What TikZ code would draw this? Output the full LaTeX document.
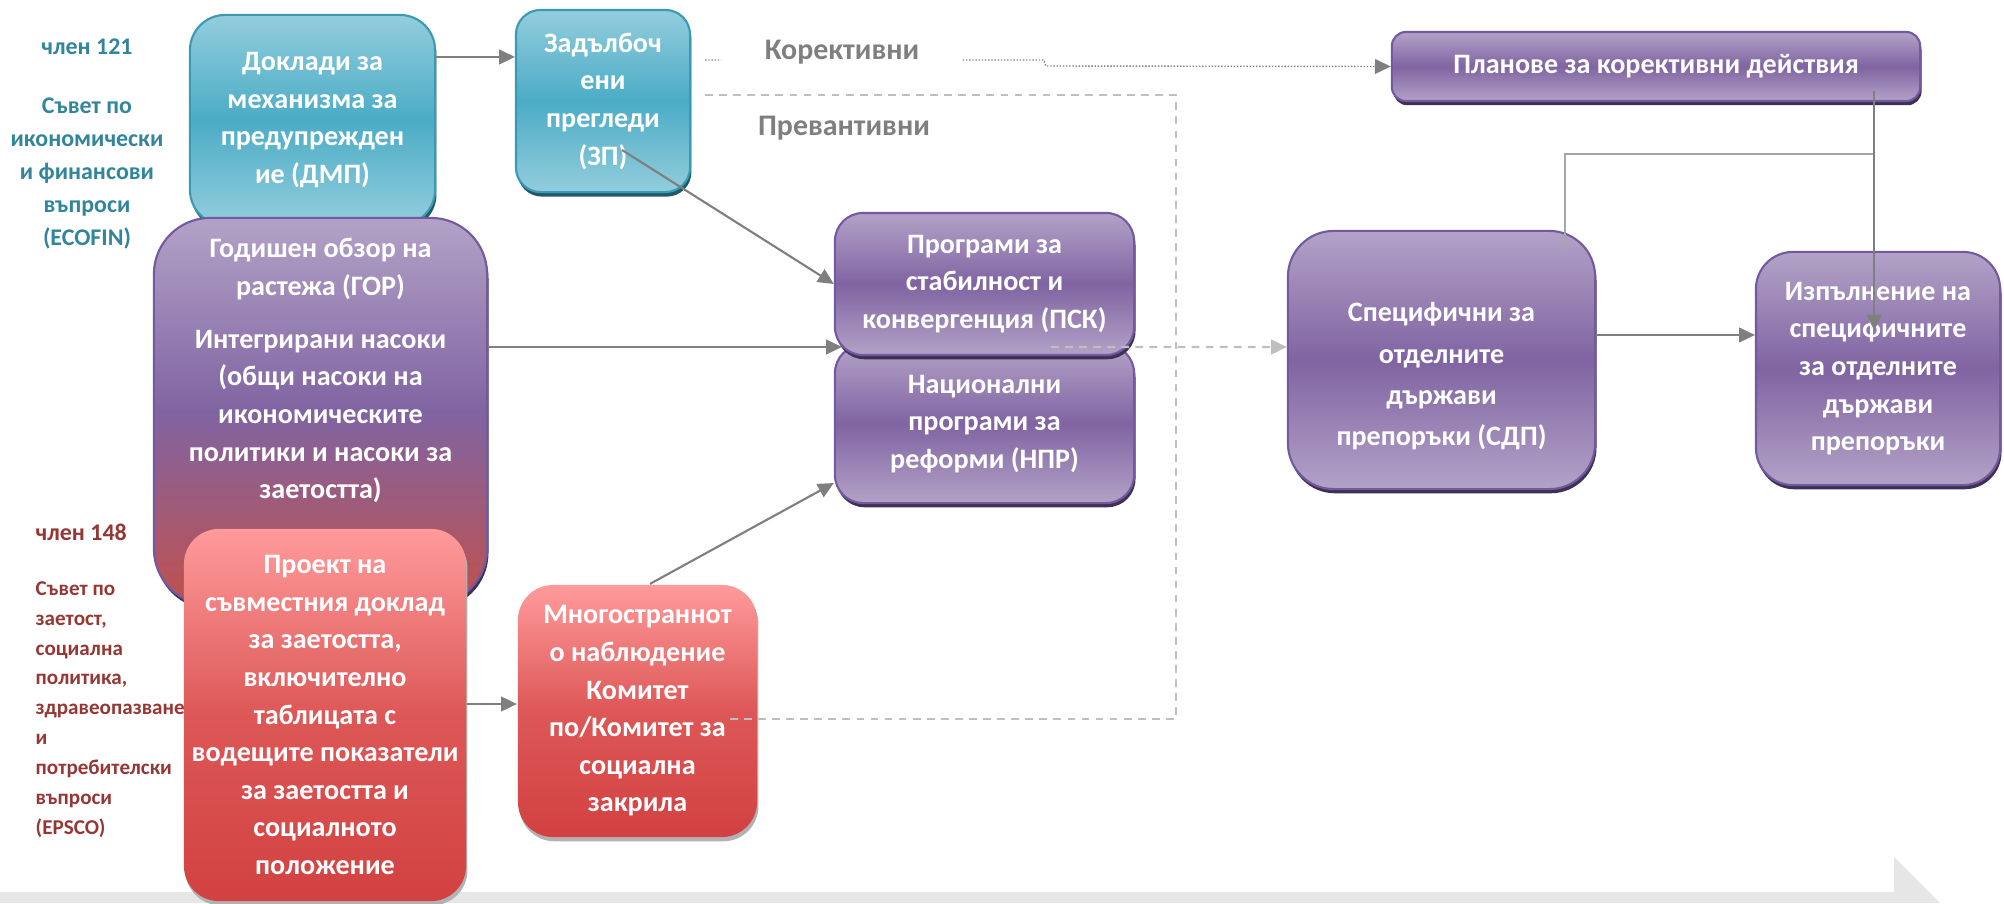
\documentclass[tikz,border=0pt]{standalone}
\usepackage{fontspec}
\setmainfont{Carlito}
\usetikzlibrary{arrows.meta, shadows, calc, positioning}
\definecolor{teallight}{HTML}{93CDDD}
\definecolor{tealmid}{HTML}{4BACC6}
\definecolor{tealedge}{HTML}{3A9AB4}
\definecolor{tealdark}{HTML}{215968}
\definecolor{tealtext}{HTML}{31859C}
\definecolor{plumlight}{HTML}{B3A2C7}
\definecolor{plummid}{HTML}{8064A2}
\definecolor{plumedge}{HTML}{7359A0}
\definecolor{plumdark}{HTML}{3F3151}
\definecolor{redlight}{HTML}{FF9B9B}
\definecolor{redmid}{HTML}{D24141}
\definecolor{brick}{HTML}{C0504D}
\definecolor{eptext}{HTML}{953735}
\definecolor{linegray}{HTML}{7F7F7F}
\definecolor{thingray}{HTML}{A6A6A6}
\definecolor{dashgray}{HTML}{BFBFBF}
\definecolor{bandgray}{HTML}{E6E6E6}
\newcommand{\boxfont}{\fontsize{8}{10.7}\selectfont\bfseries}
\newcommand{\sidefont}{\fontsize{6.8}{9.4}\selectfont\bfseries}
\newcommand{\epfont}{\fontsize{6}{8.5}\selectfont\bfseries}
\newcommand{\tagfont}{\fontsize{8.5}{10}\selectfont\bfseries}

\begin{document}
\begin{tikzpicture}[x=0.01cm, y=-0.01cm,
    box/.style={align=center, text=white, font=\boxfont, inner sep=0pt, line width=0.6pt},
    tealbox/.style={box, draw=tealedge, top color=teallight, bottom color=teallight, middle color=tealmid,
      drop shadow={shadow xshift=0.4pt, shadow yshift=-1.3pt, fill=tealdark, opacity=1}},
    plumbox/.style={box, draw=plumedge, top color=plumlight, bottom color=plumlight, middle color=plummid,
      drop shadow={shadow xshift=0.4pt, shadow yshift=-1.2pt, fill=plumdark, opacity=1}},
    mixbox/.style={box, draw=plumedge, top color=plumlight, bottom color=brick, middle color=plummid,
      drop shadow={shadow xshift=0.4pt, shadow yshift=-1.2pt, fill=plumdark, opacity=1}},
    redbox/.style={box, top color=redlight, bottom color=redmid, middle color=redmid!75!redlight,
      drop shadow={shadow xshift=0.4pt, shadow yshift=-1.2pt, fill=black!30, opacity=1}},
    conn/.style={draw=linegray, line width=0.6pt, -{Triangle[length=4.5pt, width=4.2pt]}},
    dashconn/.style={draw=dashgray, line width=0.6pt, dash pattern=on 2.2pt off 1.8pt,
      -{Triangle[length=4.5pt, width=4.2pt]}},
    dashline/.style={draw=dashgray, line width=0.6pt, dash pattern=on 2.2pt off 1.8pt},
    dotline/.style={draw=linegray, line width=0.4pt, dash pattern=on 0.4pt off 0.5pt},
    thinline/.style={draw=thingray, line width=0.5pt},
    tag/.style={font=\tagfont, text=linegray}]
  \useasboundingbox (0,0) rectangle (2004,903);
  % Timeline band
  \fill[bandgray] (0,892) -- (1894,892) -- (1894,857) -- (1940,903) -- (0,903) -- cycle;
  % Council labels
  \node[font=\sidefont, text=tealtext] (art121) at (87,47) {член 121};
  \node[font=\sidefont, text=tealtext, align=center] (ecofin) at (87,173.5)
    {Съвет по\\икономически\\и финансови\\въпроси\\(ECOFIN)};
  \node[font=\sidefont, text=eptext, anchor=west, inner xsep=0pt] (art148) at (35,532) {член 148};
  \node[font=\epfont, text=eptext, anchor=west, align=left, inner xsep=0pt] (epsco) at (35,709.5)
    {Съвет по\\заетост,\\социална\\политика,\\здравеопазване\\и\\потребителски\\въпроси\\(EPSCO)};
  % Boxes
  \node[tealbox, rounded corners=10pt, minimum width=2.45cm, minimum height=2.1cm] (dmp) at (312.5,120)
    {Доклади за\\механизма за\\предупрежден\\ие (ДМП)};
  \node[tealbox, rounded corners=7pt, minimum width=1.74cm, minimum height=1.82cm] (zp) at (603,101)
    {Задълбоч\\ени\\прегледи\\(ЗП)};
  \node[mixbox, rounded corners=16pt, minimum width=3.33cm, minimum height=3.87cm] (gor) at (320.5,411.5)
    {Годишен обзор на\\растежа (ГОР)\\[4.4pt]Интегрирани насоки\\(общи насоки на\\икономическите\\политики и насоки за\\заетостта)\\[13.8pt]\mbox{}};
  \node[plumbox, rounded corners=8pt, minimum width=2.99cm, minimum height=1.58cm] (npr) at (984.5,424)
    {Национални\\програми за\\реформи (НПР)};
  \node[plumbox, rounded corners=8pt, minimum width=2.99cm, minimum height=1.42cm] (psk) at (984.5,284)
    {Програми за\\стабилност и\\конвергенция (ПСК)};
  \node[redbox, rounded corners=10pt, minimum width=2.82cm, minimum height=3.72cm] (proekt) at (325,715)
    {Проект на\\съвместния доклад\\за заетостта,\\включително\\таблицата с\\водещите показатели\\за заетостта и\\социалното\\положение};
  \node[redbox, rounded corners=10pt, minimum width=2.39cm, minimum height=2.52cm] (mnogo) at (637.5,711)
    {Многостраннот\\о наблюдение\\Комитет\\по/Комитет за\\социална\\закрила};
  \node[plumbox, rounded corners=13pt, minimum width=3.07cm, minimum height=2.58cm,
    font=\fontsize{8}{11.7}\selectfont\bfseries] (sdp) at (1441.5,360)
    {\mbox{}\\[3pt]Специфични за\\отделните\\държави\\препоръки (СДП)};
  \node[plumbox, rounded corners=10.5pt, minimum width=2.44cm, minimum height=2.33cm] (izp) at (1878,368.5)
    {Изпълнение на\\специфичните\\за отделните\\държави\\препоръки};
  \node[plumbox, rounded corners=4pt, minimum width=5.28cm, minimum height=0.69cm] (plan) at (1656,66.5)
    {Планове за корективни действия};
  % Track labels
  \node[tag, minimum width=2.4cm] (korekt) at (842,52) {Корективни};
  \node[tag] (prev) at (844,128) {Превантивни};
  % Connectors
  \draw[conn] ([yshift=.63cm]dmp.east) -- ([yshift=.63cm]dmp.east -| zp.west);
  \draw[conn] ($(zp.center)+(19,49)$) -- (psk.west);
  \draw[conn] ([yshift=.645cm]gor.east) -- ([xshift=.08cm, yshift=.645cm]gor.east -| psk.west);
  \draw[conn] ([xshift=.125cm]mnogo.north) -- ([yshift=-.59cm]npr.west);
  \draw[conn] ([yshift=.11cm]proekt.east) -- ([yshift=.11cm]proekt.east -| mnogo.west);
  \draw[conn] ([yshift=.25cm]sdp.east) -- ([yshift=.25cm]sdp.east -| izp.west);
  \draw[dashconn] ($(psk.center)+(66.5,63)$) -- ([yshift=.13cm]sdp.west);
  \coordinate (bend) at (1176,95);
  \draw[dashline] ($(zp.east)+(14,-6)$) -- (bend) |- ($(mnogo.east)+(-33,8)$);
  \draw[dotline] ($(zp.east)+(14,-41)$) -- ([yshift=-.08cm]korekt.west);
  \draw[dotline, -{Triangle[length=4.5pt, width=4.2pt]}, arrows={[fill=linegray]}]
    ([yshift=-.08cm]korekt.east) -- ++(81,0) -- ++(2,6) -- (plan.west);
  \coordinate (tjoin) at ($(plan.south east)+(-47,52)$);
  \draw[thinline] (tjoin) -| ($(sdp.north east)+(-31,21)$);
  \draw[conn] ($(plan.south east)+(-47,-11)$) -- ($(izp.center -| tjoin)+(0,-38)$);
\end{tikzpicture}
\end{document}
